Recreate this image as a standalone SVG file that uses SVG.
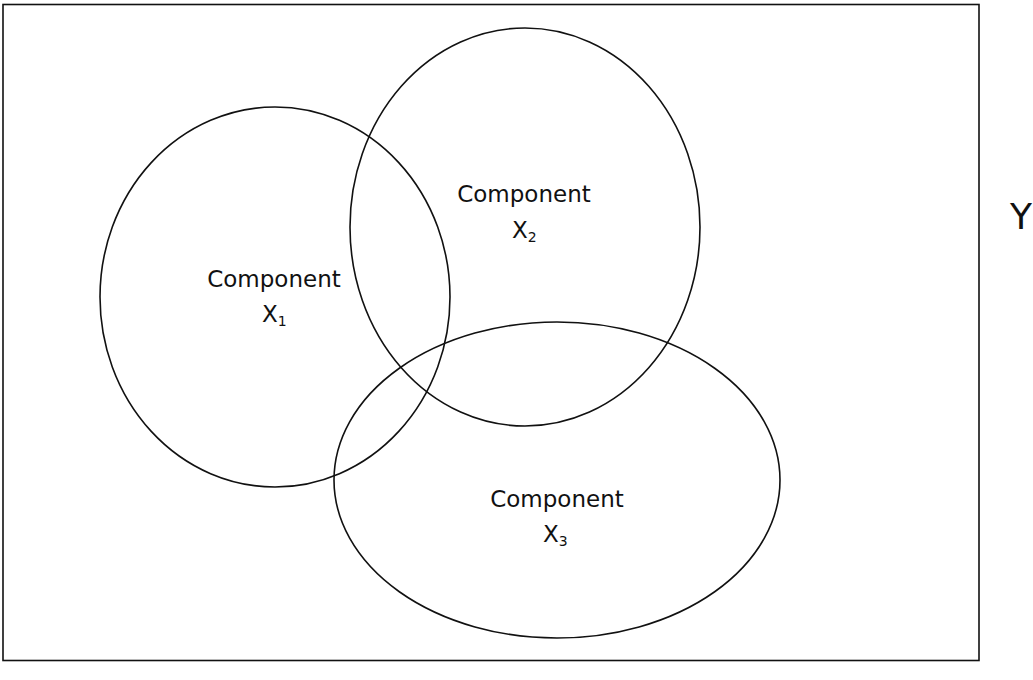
<svg xmlns="http://www.w3.org/2000/svg" width="1033" height="680" viewBox="0 0 1033 680">
<style>
.shape{fill:none;stroke:#111;stroke-width:1.6}
.lbl{font-family:"DejaVu Sans","Liberation Sans",sans-serif;font-size:23px;fill:#111}
.sub{font-size:14px}
.y{font-family:"DejaVu Sans","Liberation Sans",sans-serif;font-size:36px;fill:#111}
</style>
<rect width="1033" height="680" fill="#fff"/>
<g id="frame"><rect class="shape" x="3" y="4.5" width="976" height="656"/></g>
<g id="x1">
<ellipse class="shape" cx="275" cy="297" rx="175" ry="190"/>
<text class="lbl" x="274" y="287" text-anchor="middle">Component</text>
<text class="lbl" x="262" y="322">X<tspan class="sub" dy="4">1</tspan></text>
</g>
<g id="x2">
<ellipse class="shape" cx="525" cy="227" rx="175" ry="199"/>
<text class="lbl" x="524" y="202" text-anchor="middle">Component</text>
<text class="lbl" x="512" y="238">X<tspan class="sub" dy="4">2</tspan></text>
</g>
<g id="x3">
<ellipse class="shape" cx="557" cy="480" rx="223" ry="158"/>
<text class="lbl" x="557" y="507" text-anchor="middle">Component</text>
<text class="lbl" x="543" y="542">X<tspan class="sub" dy="4">3</tspan></text>
</g>
<g id="y"><text class="y" x="1021" y="229" text-anchor="middle">Y</text></g>
</svg>
